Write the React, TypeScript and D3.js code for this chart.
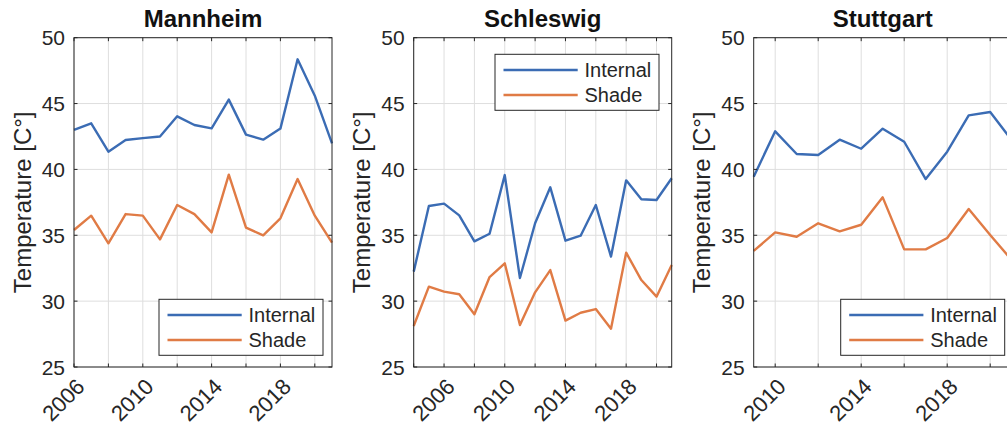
import React from 'react';
import * as d3 from 'd3';

// ---------- data ----------
const mannheimYears = [2006, 2007, 2008, 2009, 2010, 2011, 2012, 2013, 2014, 2015, 2016, 2017, 2018, 2019, 2020, 2021];
const mannheimInternal = [43.0, 43.5, 41.35, 42.23, 42.38, 42.5, 44.03, 43.37, 43.12, 45.3, 42.64, 42.26, 43.1, 48.36, 45.6, 41.98];
const mannheimShade = [35.4, 36.49, 34.39, 36.61, 36.49, 34.69, 37.3, 36.61, 35.22, 39.6, 35.58, 35.0, 36.29, 39.27, 36.49, 34.44];

const schleswigYears = [2004, 2005, 2006, 2007, 2008, 2009, 2010, 2011, 2012, 2013, 2014, 2015, 2016, 2017, 2018, 2019, 2020, 2021];
const schleswigInternal = [32.24, 37.22, 37.4, 36.51, 34.54, 35.12, 39.57, 31.76, 35.91, 38.64, 34.59, 34.97, 37.3, 33.38, 39.17, 37.73, 37.68, 39.33];
const schleswigShade = [28.11, 31.1, 30.72, 30.52, 29.0, 31.83, 32.87, 28.19, 30.67, 32.36, 28.52, 29.12, 29.4, 27.91, 33.68, 31.6, 30.34, 32.75];

const stuttgartYears = [2009, 2010, 2011, 2012, 2013, 2014, 2015, 2016, 2017, 2018, 2019, 2020, 2021];
const stuttgartInternal = [39.45, 42.89, 41.17, 41.09, 42.26, 41.57, 43.09, 42.1, 39.27, 41.35, 44.1, 44.36, 42.23];
const stuttgartShade = [33.81, 35.22, 34.89, 35.91, 35.3, 35.8, 37.88, 33.93, 33.93, 34.79, 36.99, 35.02, 33.12];

const yTicks = [25, 30, 35, 40, 45, 50];
const seriesNames = ['Internal', 'Shade'];

const mannheimGrid = [2006, 2008, 2010, 2012, 2014, 2016, 2018, 2020];
const mannheimLabels = ['2006', '2010', '2014', '2018'];
const schleswigGrid = [2004, 2006, 2008, 2010, 2012, 2014, 2016, 2018, 2020];
const schleswigLabels = ['2006', '2010', '2014', '2018'];
const stuttgartGrid = [2010, 2012, 2014, 2016, 2018, 2020];
const stuttgartLabels = ['2010', '2014', '2018'];

// ---------- style ----------
const W = 1007;
const H = 430;
const FONT = "'Liberation Sans', Arial, Helvetica, sans-serif";
const AX = '#262626';
const GRID = '#dedede';
const BLUE = '#3b6cb4';
const ORANGE = '#e07b45';

const panels = [
  {
    title: 'Mannheim', years: mannheimYears, internal: mannheimInternal, shade: mannheimShade,
    domain: [2006, 2021], left: 74, grid: mannheimGrid, labels: mannheimLabels,
    legend: { x: 159, y: 299.3 },
  },
  {
    title: 'Schleswig', years: schleswigYears, internal: schleswigInternal, shade: schleswigShade,
    domain: [2004, 2021], left: 413.7, grid: schleswigGrid, labels: schleswigLabels,
    legend: { x: 495, y: 54.3 },
  },
  {
    title: 'Stuttgart', years: stuttgartYears, internal: stuttgartInternal, shade: stuttgartShade,
    domain: [2009, 2021], left: 753.7, grid: stuttgartGrid, labels: stuttgartLabels,
    legend: { x: 840.7, y: 299.3 },
  },
];

const PW = 258;
const TOP = 37.7;
const BOTTOM = 367;
const TICK = 3.5;

function Panel({ p }: { p: typeof panels[number] }) {
  const x = d3.scaleLinear().domain(p.domain).range([p.left, p.left + PW]);
  const y = d3.scaleLinear().domain([25, 50]).range([BOTTOM, TOP]);
  const line = d3.line<[number, number]>().x((d) => x(d[0])).y((d) => y(d[1]));
  const dInt = line(p.years.map((yr, i) => [yr, p.internal[i]]) as [number, number][]) || '';
  const dSh = line(p.years.map((yr, i) => [yr, p.shade[i]]) as [number, number][]) || '';
  const right = p.left + PW;
  const cx = p.left + PW / 2;
  const cy = (TOP + BOTTOM) / 2;
  const lg = p.legend;
  return (
    <g>
      {/* grid */}
      {p.grid.map((t) => (
        <line key={'gx' + t} x1={x(t)} x2={x(t)} y1={TOP} y2={BOTTOM} stroke={GRID} strokeWidth={1} />
      ))}
      {yTicks.map((t) => (
        <line key={'gy' + t} x1={p.left} x2={right} y1={y(t)} y2={y(t)} stroke={GRID} strokeWidth={1} />
      ))}
      {/* data lines */}
      <path d={dInt} fill="none" stroke={BLUE} strokeWidth={2.4} strokeLinejoin="round" />
      <path d={dSh} fill="none" stroke={ORANGE} strokeWidth={2.4} strokeLinejoin="round" />
      {/* box */}
      <rect x={p.left} y={TOP} width={PW} height={BOTTOM - TOP} fill="none" stroke={AX} strokeWidth={1} />
      {/* ticks */}
      {p.grid.map((t) => (
        <g key={'tx' + t}>
          <line x1={x(t)} x2={x(t)} y1={BOTTOM} y2={BOTTOM - TICK} stroke={AX} strokeWidth={1} />
          <line x1={x(t)} x2={x(t)} y1={TOP} y2={TOP + TICK} stroke={AX} strokeWidth={1} />
        </g>
      ))}
      {yTicks.map((t) => (
        <g key={'ty' + t}>
          <line x1={p.left} x2={p.left + TICK} y1={y(t)} y2={y(t)} stroke={AX} strokeWidth={1} />
          <line x1={right} x2={right - TICK} y1={y(t)} y2={y(t)} stroke={AX} strokeWidth={1} />
          <text x={p.left - 9} y={y(t)} dy="0.36em" textAnchor="end" fontSize={21} fill={AX} fontFamily={FONT}>
            {t}
          </text>
        </g>
      ))}
      {p.labels.map((lab) => (
        <text
          key={'lx' + lab}
          transform={`translate(${x(+lab) + 12},${BOTTOM + 21}) rotate(-45)`}
          textAnchor="end"
          fontSize={22}
          fill={AX}
          fontFamily={FONT}
        >
          {lab}
        </text>
      ))}
      {/* y label */}
      <text
        transform={`translate(${p.left - 43.5},${cy}) rotate(-90)`}
        textAnchor="middle"
        fontSize={24}
        fill={AX}
        fontFamily={FONT}
      >
        Temperature [C°]
      </text>
      {/* title */}
      <text x={cx} y={27} textAnchor="middle" fontSize={24} fontWeight="bold" fill="#111" fontFamily={FONT}>
        {p.title}
      </text>
      {/* legend */}
      <rect x={lg.x} y={lg.y} width={164} height={56} fill="#fff" stroke={AX} strokeWidth={1} />
      {seriesNames.map((name, i) => (
        <g key={name}>
          <line
            x1={lg.x + 8.5}
            x2={lg.x + 82.7}
            y1={lg.y + 15.7 + i * 25}
            y2={lg.y + 15.7 + i * 25}
            stroke={i === 0 ? BLUE : ORANGE}
            strokeWidth={2.4}
          />
          <text x={lg.x + 89.5} y={lg.y + 15.7 + i * 25} dy="0.36em" fontSize={20} fill={AX} fontFamily={FONT}>
            {name}
          </text>
        </g>
      ))}
    </g>
  );
}

export default function App() {
  return (
    <svg
      width={W}
      height={H}
      viewBox={`0 0 ${W} ${H}`}
      style={{ position: 'absolute', left: 0, top: 0, background: '#fff' }}
    >
      <rect x={0} y={0} width={W} height={H} fill="#fff" />
      {panels.map((p) => (
        <Panel key={p.title} p={p} />
      ))}
    </svg>
  );
}
